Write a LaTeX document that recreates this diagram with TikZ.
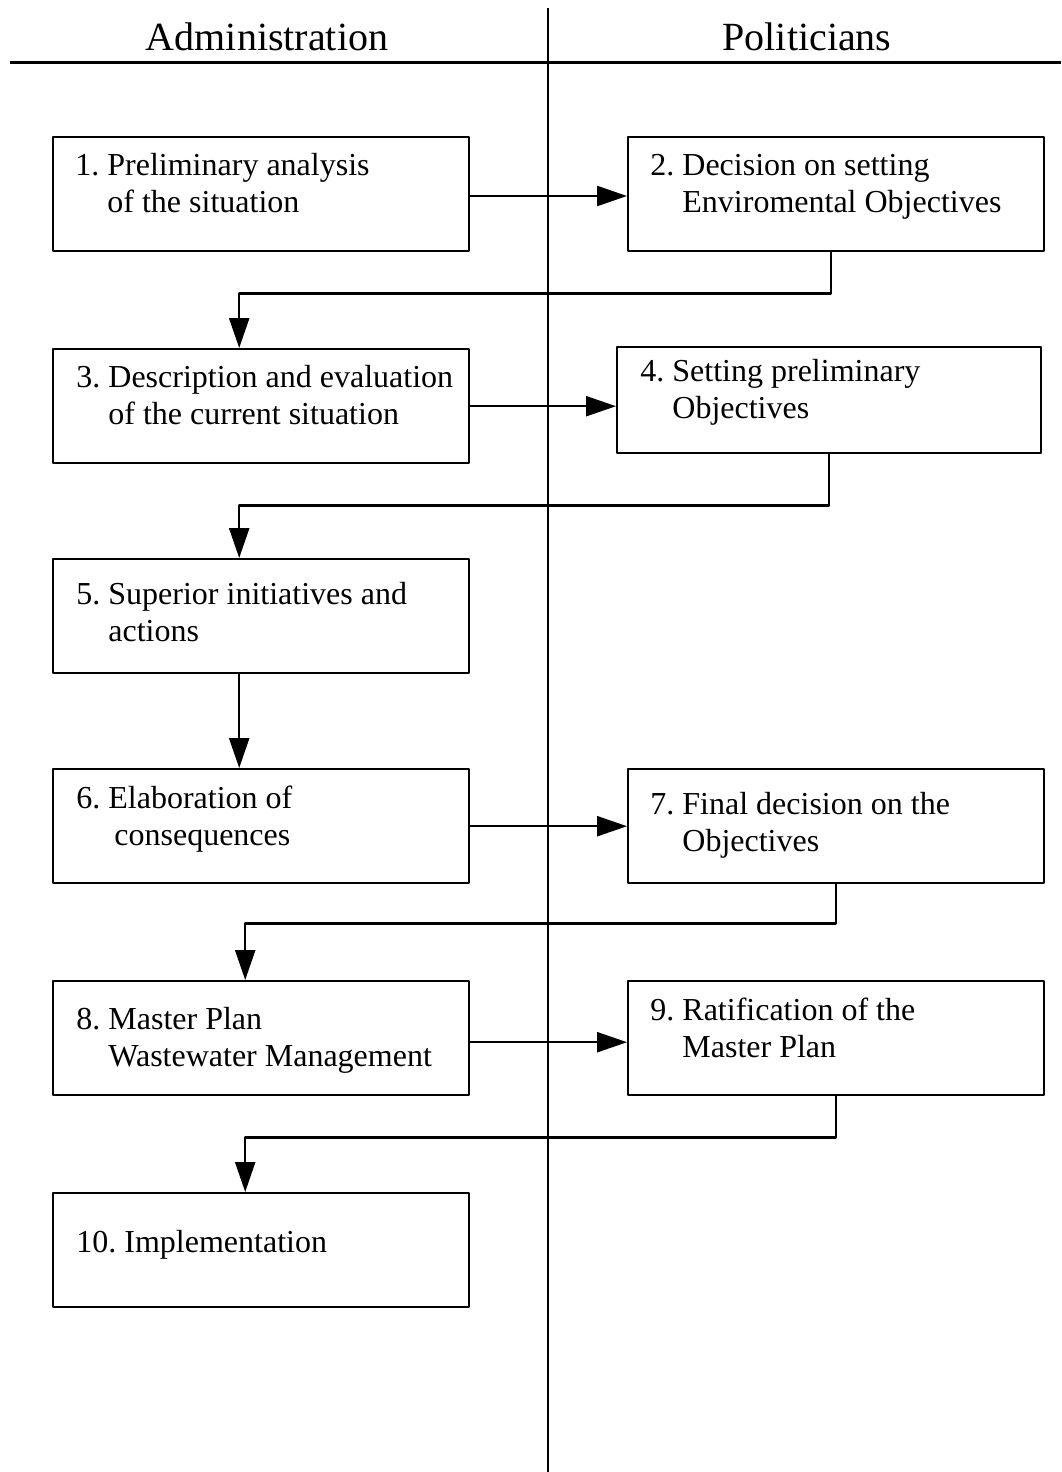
\documentclass[tikz,border=0pt]{standalone}
\usepackage{fontspec}
\setmainfont{Liberation Serif}
\usetikzlibrary{arrows.meta}
\tikzset{
  stage/.style={draw,line width=1.2pt,inner sep=0pt,anchor=north west,minimum width=208pt,minimum height=57pt},
  stagetext/.style={anchor=base west,align=left,inner sep=0pt,font=\fontsize{16}{18.5}\selectfont},
  lane/.style={anchor=base,inner sep=0pt,font=\fontsize{20}{24}\selectfont},
  flow/.style={line width=1.2pt,-{Triangle[length=15pt,width=10pt]}},
}
\begin{document}
\begin{tikzpicture}[line cap=round,line join=round,x=0.5pt,y=-0.5pt]
\useasboundingbox (0,0) rectangle (1061,1472);
% lanes
\draw [line width=1.5pt,line cap=butt] (10,62)-- (1061,62);
\draw [line width=1pt,line cap=butt] (548,8)-- (548,1472);
\node[lane] (hadmin) at (267,50) {Administration};
\node[lane] (hpol) at (807,50) {Politicians};
% boxes
\node[stage] (b1) at (52,136) {};
\node[stage] (b2) at (627,136) {};
\node[stage] (b3) at (52,348) {};
\node[stage,minimum width=212pt,minimum height=53pt] (b4) at (616,346) {};
\node[stage] (b5) at (52,558) {};
\node[stage] (b6) at (52,768) {};
\node[stage] (b7) at (627,768) {};
\node[stage] (b8) at (52,980) {};
\node[stage] (b9) at (627,980) {};
\node[stage] (b10) at (52,1192) {};
% texts (base = last line)
\node[stagetext] (t1) at (75,212) {1.~Preliminary analysis\\\hphantom{1.~}of the situation};
\node[stagetext] (t2) at (650,212) {2.~Decision on setting\\\hphantom{2.~}Enviromental Objectives};
\node[stagetext] (t3) at (76,424) {3.~Description and evaluation\\\hphantom{3.~}of the current situation};
\node[stagetext] (t4) at (640,418) {4.~Setting preliminary\\\hphantom{4.~}Objectives};
\node[stagetext] (t5) at (76,641) {5.~Superior initiatives and\\\hphantom{5.~}actions};
\node[stagetext] (t6) at (76,845) {6.~Elaboration of\\\hphantom{6.~}\hspace{3pt}consequences};
\node[stagetext] (t7) at (650,851) {7.~Final decision on the\\\hphantom{7.~}Objectives};
\node[stagetext] (t8) at (76,1066) {8.~Master Plan\\\hphantom{8.~}Wastewater Management};
\node[stagetext] (t9) at (650,1057) {9.~Ratification of the\\\hphantom{9.~}Master Plan};
\node[stagetext] (t10) at (76,1252) {10.~Implementation};
% flow
\draw[flow] (b1.east |- 0,196) -- (b2.west |- 0,196);
\draw[flow] ([xshift=-2.5pt]b2.south) -- ++(0,41) -| ([xshift=-11pt]b3.north);
\draw[flow] (b3.east) -- (b3.east -| b4.west);
\draw[flow] (b4.south) -- ++(0,51) -| ([xshift=-11pt]b5.north);
\draw[flow] ([xshift=-11pt]b5.south) -- ([xshift=-11pt]b6.north);
\draw[flow] (b6.east) -- (b6.east -| b7.west);
\draw[flow] (b7.south) -- ++(0,39) -| ([xshift=-8pt]b8.north);
\draw[flow] ([yshift=-2pt]b8.east) -- ([yshift=-2pt]b8.east -| b9.west);
\draw[flow] (b9.south) -- ++(0,41) -| ([xshift=-8pt]b10.north);
\end{tikzpicture}
\end{document}
